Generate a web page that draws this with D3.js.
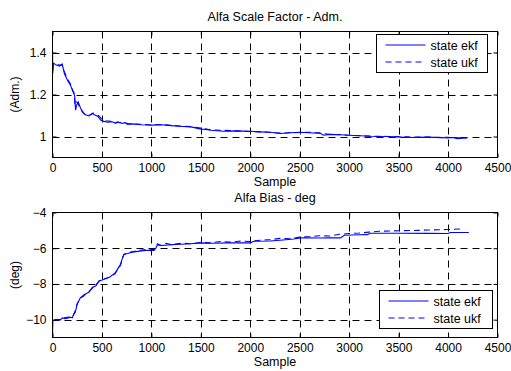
<!DOCTYPE html>
<html>
<head>
<meta charset="utf-8">
<script src="https://cdn.jsdelivr.net/npm/d3@7"></script>
<style>
  body { margin: 0; background: #fff; }
  svg text { font-family: "Liberation Sans", Arial, sans-serif; fill: #000; }
</style>
</head>
<body>
<div id="chart"></div>
<script>
// datos
var xTicks = [0, 500, 1000, 1500, 2000, 2500, 3000, 3500, 4000, 4500]
var scaleTicks = [1, 1.2, 1.4]
var biasTicks = [-10, -8, -6, -4]

var scaleEkfX = [0,3,8,40,70,98,120,149,182,205,216,225,233,245,260,280,300,330,368,401,420,435,460,486,520,560,604,640,660,705,730,760,807,900,1009,1100,1200,1279,1400,1502,1550,1600,1728,1850,2001,2100,2200,2305,2400,2500,2640,2700,2740,2810,2912,3000,3215,3400,3620,3800,3992,4050,4093,4150,4195]
var scaleEkfY = [1.41,1.30,1.35,1.34,1.335,1.345,1.30,1.27,1.244,1.215,1.205,1.19,1.125,1.15,1.165,1.14,1.117,1.105,1.098,1.11,1.105,1.101,1.095,1.078,1.072,1.068,1.07,1.063,1.07,1.062,1.066,1.058,1.06,1.056,1.054,1.056,1.052,1.049,1.046,1.035,1.034,1.03,1.025,1.027,1.025,1.022,1.02,1.014,1.018,1.02,1.017,1.018,1.006,1.01,1.008,1.006,1.0015,1.0,0.995,0.997,0.993,0.995,0.99,0.992,0.993]

var scaleUkfX = [0,3,8,40,70,98,120,149,182,205,216,228,240,255,270,290,310,340,380,410,440,470,500,540,590,630,680,720,760,820,900,1000,1100,1200,1300,1400,1500,1600,1700,1800,1900,2000,2100,2200,2300,2400,2500,2600,2700,2800,2900,3000,3200,3400,3600,3800,4000,4100,4195]
var scaleUkfY = [1.40,1.31,1.34,1.345,1.34,1.34,1.31,1.275,1.25,1.22,1.21,1.15,1.165,1.16,1.145,1.13,1.115,1.10,1.102,1.112,1.108,1.098,1.082,1.075,1.072,1.068,1.066,1.068,1.062,1.06,1.058,1.055,1.057,1.053,1.05,1.047,1.04,1.032,1.03,1.028,1.026,1.024,1.022,1.02,1.016,1.018,1.019,1.02,1.016,1.01,1.009,1.006,1.002,1.0,0.998,0.997,0.996,0.994,0.995]

var biasEkfX = [0,2,5,40,80,100,130,160,182,200,216,230,250,283,310,334,370,402,440,470,503,540,580,604,630,655,688,705,722,760,807,900,976,1026,1045,1060,1100,1212,1300,1400,1495,1600,1800,2001,2035,2200,2300,2440,2507,2700,2800,2912,2950,3100,3182,3215,3500,3800,4000,4025,4050,4210]
var biasEkfY = [-11,-10.1,-10.05,-10.0,-10.02,-9.9,-9.95,-9.9,-9.87,-9.9,-9.68,-9.6,-9.13,-8.76,-8.7,-8.57,-8.45,-8.2,-8.1,-7.83,-7.78,-7.7,-7.62,-7.5,-7.45,-7.2,-6.9,-6.6,-6.35,-6.3,-6.22,-6.15,-6.11,-6.12,-6.0,-5.82,-5.85,-5.8,-5.78,-5.75,-5.7,-5.72,-5.7,-5.7,-5.61,-5.6,-5.55,-5.48,-5.42,-5.43,-5.42,-5.42,-5.27,-5.25,-5.24,-5.16,-5.16,-5.17,-5.18,-5.12,-5.12,-5.12]

var biasUkfX = [0,2,5,40,80,100,130,160,182,200,216,230,250,283,310,334,370,402,440,470,503,540,580,604,630,655,688,705,722,760,807,900,976,1026,1045,1060,1100,1150,1200,1300,1400,1500,1600,1700,1800,1900,2000,2100,2200,2300,2400,2500,2600,2700,2800,2900,3000,3100,3200,3300,3500,3700,3800,4000,4160]
var biasUkfY = [-11,-10.05,-10.0,-10.02,-9.98,-9.85,-9.9,-9.85,-9.85,-9.85,-9.7,-9.5,-9.1,-8.8,-8.65,-8.55,-8.4,-8.25,-8.05,-7.85,-7.75,-7.7,-7.6,-7.55,-7.4,-7.25,-6.95,-6.6,-6.35,-6.25,-6.2,-6.1,-6.05,-6.08,-5.9,-5.75,-5.85,-5.72,-5.8,-5.72,-5.75,-5.68,-5.7,-5.62,-5.66,-5.6,-5.62,-5.55,-5.52,-5.45,-5.47,-5.38,-5.35,-5.3,-5.32,-5.22,-5.18,-5.15,-5.1,-5.05,-5.02,-5.0,-4.98,-4.95,-4.92]

var w = 511
var h = 371
var left = 52.5
var right = 497.5

var svg = d3.select('#chart')
    .append('svg')
    .attr('width', w)
    .attr('height', h)

var scaleX = d3.scaleLinear().domain([0, 4500]).range([left, right])

function zip(xs, ys){
    return xs.map((x, i) => [x, ys[i]])
}

function panel(cfg){
    var scaleY = d3.scaleLinear().domain(cfg.yDomain).range([cfg.bottom, cfg.top])
    var g = svg.append('g')

    // rejilla punteada
    g.append('g').selectAll('line.gx')
        .data(xTicks.slice(1, -1))
        .enter().append('line')
        .attr('x1', (d) => Math.round(scaleX(d)) + 0.5)
        .attr('x2', (d) => Math.round(scaleX(d)) + 0.5)
        .attr('y1', cfg.top).attr('y2', cfg.bottom)
        .attr('stroke', '#000').attr('stroke-dasharray', '7,5')
    g.append('g').selectAll('line.gy')
        .data(cfg.yTicks.filter((d) => d > cfg.yDomain[0] && d < cfg.yDomain[1]))
        .enter().append('line')
        .attr('x1', left).attr('x2', right)
        .attr('y1', (d) => Math.round(scaleY(d)) + 0.5)
        .attr('y2', (d) => Math.round(scaleY(d)) + 0.5)
        .attr('stroke', '#000').attr('stroke-dasharray', '7,5')

    var line = d3.line().x((d) => scaleX(d[0])).y((d) => scaleY(d[1]))
    var clip = 'clip' + cfg.id
    g.append('clipPath').attr('id', clip).append('rect')
        .attr('x', left).attr('y', cfg.top)
        .attr('width', right - left).attr('height', cfg.bottom - cfg.top)

    g.append('path')
        .datum(zip(cfg.ukfX, cfg.ukfY))
        .attr('d', line)
        .attr('clip-path', 'url(#' + clip + ')')
        .attr('fill', 'none').attr('stroke', '#0000ff').attr('stroke-width', 1.1)
        .attr('stroke-dasharray', '6,4')
    g.append('path')
        .datum(zip(cfg.ekfX, cfg.ekfY))
        .attr('d', line)
        .attr('clip-path', 'url(#' + clip + ')')
        .attr('fill', 'none').attr('stroke', '#0000ff').attr('stroke-width', 1.1)

    // ejes estilo matlab, ticks hacia dentro
    var xaxis = d3.axisBottom(scaleX).tickValues(xTicks).tickSize(-4).tickPadding(6).tickFormat(d3.format('d'))
    var xaxisTop = d3.axisTop(scaleX).tickValues(xTicks).tickSize(-4).tickFormat('')
    var yaxis = d3.axisLeft(scaleY).tickValues(cfg.yTicks).tickSize(-4).tickPadding(6).tickFormat(cfg.fmt)
    var yaxisRight = d3.axisRight(scaleY).tickValues(cfg.yTicks).tickSize(-4).tickFormat('')

    var ax = [
        g.append('g').attr('transform', 'translate(0,' + cfg.bottom + ')').call(xaxis),
        g.append('g').attr('transform', 'translate(0,' + cfg.top + ')').call(xaxisTop),
        g.append('g').attr('transform', 'translate(' + left + ',0)').call(yaxis),
        g.append('g').attr('transform', 'translate(' + right + ',0)').call(yaxisRight)
    ]
    ax.forEach((a) => {
        a.select('.domain').remove()
        a.selectAll('text').attr('font-size', '12px').style('font-family', '"Liberation Sans", Arial, sans-serif')
    })

    g.append('rect')
        .attr('x', left).attr('y', cfg.top)
        .attr('width', right - left).attr('height', cfg.bottom - cfg.top)
        .attr('fill', 'none').attr('stroke', '#000').attr('stroke-width', 1)

    g.append('text')
        .attr('x', (left + right) / 2).attr('y', cfg.top - 11)
        .attr('text-anchor', 'middle').attr('font-size', '12.5px')
        .text(cfg.title)
    g.append('text')
        .attr('x', (left + right) / 2).attr('y', cfg.bottom + 28)
        .attr('text-anchor', 'middle').attr('font-size', '12.5px')
        .text('Sample')
    g.append('text')
        .attr('transform', 'translate(19,' + ((cfg.top + cfg.bottom) / 2) + ') rotate(-90)')
        .attr('text-anchor', 'middle').attr('font-size', '12px')
        .text(cfg.ylabel)

    // leyenda
    var lg = g.append('g').attr('transform', 'translate(' + cfg.legend[0] + ',' + cfg.legend[1] + ')')
    lg.append('rect')
        .attr('width', cfg.legend[2]).attr('height', 38)
        .attr('fill', '#fff').attr('stroke', '#000')
    var items = [['state ekf', null, 10.5], ['state ukf', '6,4', 27.5]]
    items.forEach((it) => {
        lg.append('line')
            .attr('x1', 9).attr('x2', 49).attr('y1', it[2]).attr('y2', it[2])
            .attr('stroke', '#0000ff').attr('stroke-dasharray', it[1])
        lg.append('text')
            .attr('x', 54).attr('y', it[2] + 4.5).attr('font-size', '12.5px')
            .text(it[0])
    })
}

panel({
    id: 'a', top: 31.5, bottom: 157.5, yDomain: [0.9, 1.5], yTicks: scaleTicks,
    fmt: (d) => d === 1 ? '1' : d3.format('.1f')(d),
    title: 'Alfa Scale Factor - Adm.', ylabel: '(Adm.)',
    ekfX: scaleEkfX, ekfY: scaleEkfY, ukfX: scaleUkfX, ukfY: scaleUkfY,
    legend: [376.5, 34.5, 111]
})
panel({
    id: 'b', top: 212.5, bottom: 337.5, yDomain: [-11, -4], yTicks: biasTicks,
    fmt: d3.format('d'),
    title: 'Alfa Bias - deg', ylabel: '(deg)',
    ekfX: biasEkfX, ekfY: biasEkfY, ukfX: biasUkfX, ukfY: biasUkfY,
    legend: [379.5, 290.5, 113]
})
</script>
</body>
</html>
